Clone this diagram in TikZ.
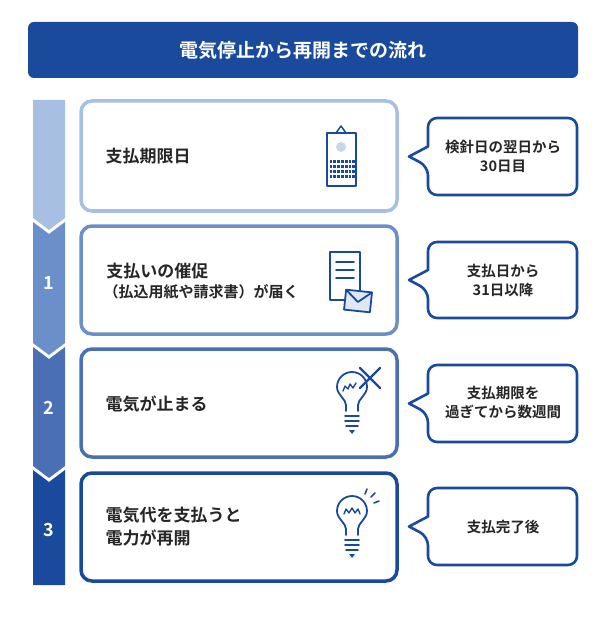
\documentclass[tikz,border=0pt]{standalone}
\usepackage{fontspec}
\setmainfont{Noto Sans CJK JP}[BoldFont={Noto Sans CJK JP Bold}]
\usetikzlibrary{calc}
\definecolor{stepA}{HTML}{A7BFE2}
\definecolor{stepB}{HTML}{6A8FC9}
\definecolor{stepC}{HTML}{4A6FB5}
\definecolor{stepD}{HTML}{1A4A9C}
\definecolor{iconfill}{HTML}{C9D7EA}
\tikzset{
  stepbox/.style={draw, line width=3.5pt, rounded corners=11pt, fill=white},
  notebox/.style={draw=stepD, line width=2.6pt, fill=white, line join=round},
  boxtext/.style={anchor=west, align=left, font=\bfseries\fontsize{17}{23}\selectfont, text=black!85},
  notetext/.style={align=center, font=\bfseries\fontsize{14.5}{19}\selectfont, text=black!85},
  numtext/.style={text=white, font=\bfseries\fontsize{18}{20}\selectfont},
  icon/.style={draw=stepD, line width=1.8pt, line cap=round, line join=round}
}
\begin{document}
\begin{tikzpicture}[x=1pt, y=-1pt]
  \useasboundingbox (0,0) rectangle (600,620);
  % title bar
  \fill[stepD, rounded corners=6pt] (28,22) rectangle (578,78);
  \node[text=white, font=\bfseries\fontsize{19}{21}\selectfont] (title) at (303,50) {電気停止から再開までの流れ};

  % left strip
  \fill[stepA] (33,100) -- (65,100) -- (65,218) -- (49,230) -- (33,218) -- cycle;
  \foreach \top/\bot/\col in {222/343/stepB, 347/466/stepC}
    \fill[\col] (33,\top) -- (49,\top+12) -- (65,\top) -- (65,\bot) -- (49,\bot+12) -- (33,\bot) -- cycle;
  \fill[stepD] (33,470) -- (49,482) -- (65,470) -- (65,585) -- (33,585) -- cycle;
  \node[numtext] (n1) at (49,283) {1};
  \node[numtext] (n2) at (49,408) {2};
  \node[numtext] (n3) at (49,530) {3};

  % step boxes
  \draw[stepbox, draw=stepA] (81,101) rectangle (397,211);
  \draw[stepbox, draw=stepB] (81,226) rectangle (397,334);
  \draw[stepbox, draw=stepC] (81,349) rectangle (397,457);
  \draw[stepbox, draw=stepD] (81,473) rectangle (397,581);
  \node[boxtext] (s0) at (102,156) {支払期限日};
  \node[boxtext] (s1) at (100,281) {\,支払いの催促\\[-3pt]{\fontsize{15}{19}\selectfont （払込用紙や請求書）が届く}};
  \node[boxtext] (s2) at (102,404) {電気が止まる};
  \node[boxtext] (s3) at (102,527) {電気代を支払うと\\電力が再開};

  % callouts
  \foreach \yt/\yb in {118/195, 242/318, 365/442, 488/565}
    \draw[notebox, rounded corners=9pt] (428,\yt) -- (577,\yt) -- (577,\yb) -- (428,\yb)
      -- (428,{(\yt+\yb)/2+10}) [sharp corners] -- (409,{(\yt+\yb)/2})
      -- (428,{(\yt+\yb)/2-10}) [rounded corners=9pt] -- cycle;
  \node[notetext] (c0) at (503,156) {検針日の翌日から\\30日目};
  \node[notetext] (c1) at (503,280) {支払日から\\31日以降};
  \node[notetext] (c2) at (503,403) {支払期限を\\過ぎてから数週間};
  \node[notetext] (c3) at (503,527) {支払完了後};

  % calendar
  \draw[icon, line width=1.5pt] (336,133) -- (341,126) -- (346,133);
  \draw[icon, fill=white] (327,133) rectangle (356,186);
  \fill[iconfill] (341,147) circle (5);
  \foreach \r in {0,...,3}
    \foreach \c in {0,...,6}
      \fill[stepD] ({329.5+\c*3.8},{160+\r*5}) rectangle ++(2.8,3.5);

  % document and envelope
  \draw[icon, fill=white] (330,252) rectangle (360,300);
  \foreach \yy in {262,270,278}
    \draw[icon] (336,\yy) -- (354,\yy);
  \begin{scope}[shift={(358,301)}, rotate=-6]
    \draw[icon, fill=iconfill!60] (-13,-10) rectangle (13,10);
    \draw[icon] (-13,-10) -- (0,1) -- (13,-10);
  \end{scope}

  % bulbs
  \foreach \cy/\wire in {389/off, 513/on}{
    \draw[icon] (346,{\cy+22}) -- (346,{\cy+16}) .. controls (346,{\cy+10}) and (337,{\cy+6}) .. (337,{\cy-2})
      arc[start angle=180, end angle=360, radius=15] .. controls (367,{\cy+6}) and (358,{\cy+10}) .. (358,{\cy+16}) -- (358,{\cy+22});
    \foreach \k/\w in {0/7, 5/7, 10/6}
      \draw[icon] ({352-\w},{\cy+27+\k}) -- ({352+\w},{\cy+27+\k});
    \fill[stepD] (349,{\cy+41}) -- (355,{\cy+41}) -- (352,{\cy+45}) -- cycle;
  }
  \draw[icon, line width=1.4pt] (343,391) -- (345,386) -- (348,389) -- (350,384) -- (353,388) -- (356,383);
  \draw[icon, line width=2.2pt] (360,368) -- (380,388) (380,368) -- (360,388);
  \draw[icon, line width=1.4pt] (344,514) -- (346,509) -- (349,513) -- (352,508) -- (355,513) -- (358,509) -- (360,514);
  \draw[icon, line width=1.6pt] (365,494) -- (367,489) (371,497) -- (375,493) (374,503) -- (379,501);
\end{tikzpicture}
\end{document}
